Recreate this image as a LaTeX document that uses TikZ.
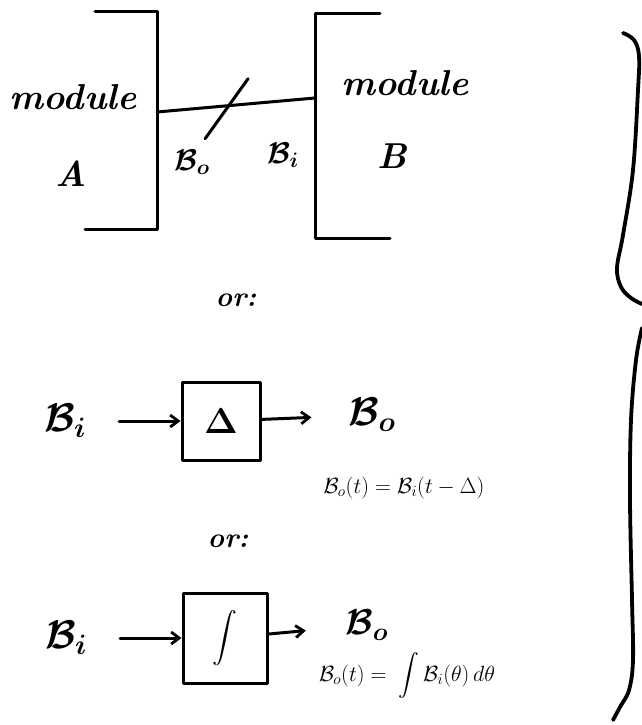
\RequirePackage{fix-cm}
\documentclass[tikz,border=0pt]{standalone}
\usepackage{exscale}
\usetikzlibrary{arrows.meta,calc}
\newcommand\mysz[1]{\fontsize{#1}{#1}\selectfont}
\tikzset{
  hand/.style={line width=3pt, line cap=round, line join=round},
  arr/.style={hand, -{Straight Barb[length=8pt,width=12pt,line width=2.8pt]}},
  lbl/.style={inner sep=0pt},
  blk/.style={draw, hand, inner sep=0pt},
  brace/.style={line width=3.8pt, line cap=round, line join=round},
  script/.style={lbl, font=\mysz{#1}\bfseries\itshape\boldmath},
}
\begin{document}
\begin{tikzpicture}[x=1pt,y=-1pt]
\useasboundingbox (0,0) rectangle (642,725);

% module A
\draw[hand] (95,12) -- (157,12) -- (157,229) -- (85,229);
\node[script=36] (modAtxt) at (73,97) {module};
\node[script=36] (modAname) at (71,174) {A};

% module B
\draw[hand] (380,14) -- (315,14) -- (315,238) -- (390,238);
\node[script=36] (modBtxt) at (405,83) {module};
\node[script=36] (modBname) at (392,156) {B};

% connection
\coordinate (aport) at (157,112);
\coordinate (bport) at (315,98);
\draw[hand] (aport) -- (bport) coordinate[pos=0.45] (mid);
\draw[hand] ($(mid)+(-23,33)$) -- ($(mid)+(20,-27)$);
\node[script=30] (boA) at (192,162) {$\mathcal{B}_o$};
\node[script=30] (biB) at (283,155) {$\mathcal{B}_i$};

% or:
\node[script=28] (or1) at (236,300) {or:};
\node[script=28] (or2) at (228,541) {or:};

% delay row
\node[script=40] (bi1) at (65,421) {$\mathcal{B}_i$};
\node[blk,minimum width=78pt,minimum height=78pt,font=\mysz{36}\boldmath] (delay) at (221,421) {$\Delta$};
\node[script=40] (bo1) at (372,415) {$\mathcal{B}_o$};
\node[lbl,font=\mysz{22}] (eq1) at (404,488) {$\mathcal{B}_o(t)=\mathcal{B}_i(t-\Delta)$};
\draw[arr, shorten <=33pt] (bi1) -- (delay);
\draw[arr, shorten >=37pt] (delay) -- (bo1);

% integrator row
\node[script=40] (bi2) at (66,638) {$\mathcal{B}_i$};
\node[blk,minimum width=84pt,minimum height=90pt,font=\mysz{26}] (intbox) at (225,638) {$\displaystyle\int$};
\node[script=36] (bo2) at (367,625) {$\mathcal{B}_o$};
\node[lbl,font=\mysz{22}] (eq2) at (407,676) {$\mathcal{B}_o(t)=\;\displaystyle\int\mathcal{B}_i(\theta)\,d\theta$};
\draw[arr, shorten <=33pt] (bi2) -- (intbox);
\draw[arr, shorten >=40pt] (intbox) -- (bo2);

% right brace
\draw[brace] plot[smooth, tension=0.6] coordinates {(623,33) (634,40) (639,56) (638,90) (633,170) (623,235) (617,268) (621,287) (631,298) (642,304)};
\draw[brace] plot[smooth, tension=0.6] coordinates {(642,328) (636,360) (631,420) (630,500) (632,600) (633,660) (629,690) (620,707) (613,720)};
\end{tikzpicture}
\end{document}
